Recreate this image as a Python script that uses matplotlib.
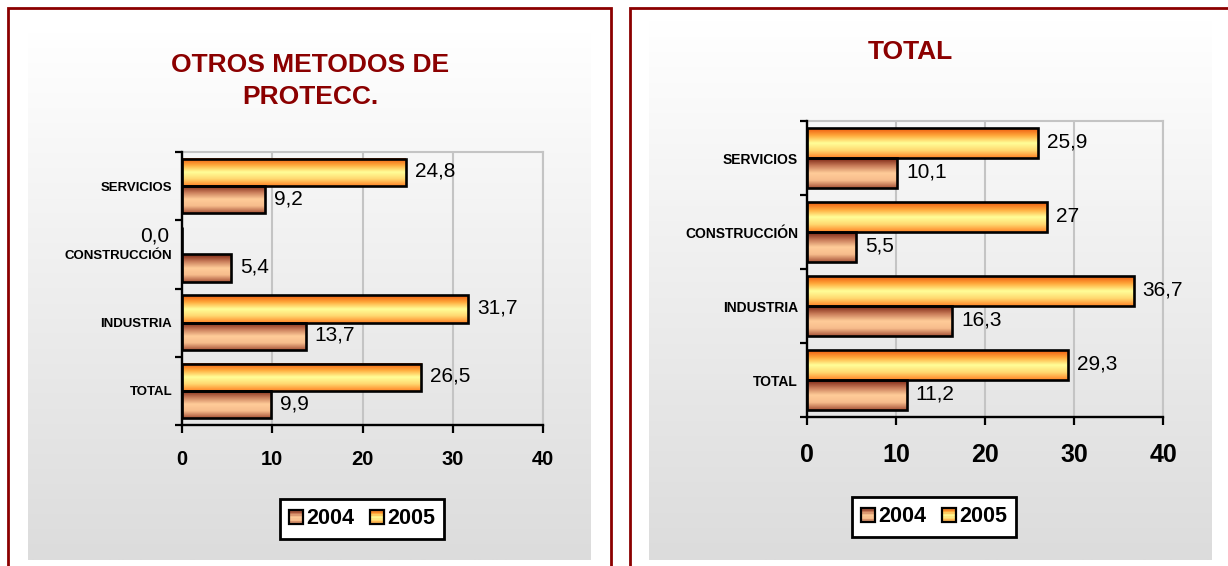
import numpy as np
import matplotlib
matplotlib.use("Agg")
import matplotlib.pyplot as plt
from matplotlib.colors import LinearSegmentedColormap
from matplotlib.patches import Rectangle, Patch
from matplotlib.legend_handler import HandlerBase

plt.rcParams["font.family"] = ["Liberation Sans", "DejaVu Sans"]

categories = ["SERVICIOS", "CONSTRUCCIÓN", "INDUSTRIA", "TOTAL"]
years = ["2004", "2005"]

otros_2004 = [9.2, 5.4, 13.7, 9.9]
otros_2005 = [24.8, 0.0, 31.7, 26.5]
total_2004 = [10.1, 5.5, 16.3, 11.2]
total_2005 = [25.9, 27, 36.7, 29.3]

W, H = 1228, 566
DARKRED = "#8B0000"
GRID = "#C4C4C4"

# shading of the bars, top to bottom
cmap04 = LinearSegmentedColormap.from_list(
    "b04", ["#7A2412", "#C77A58", "#FFCC99", "#F7BC8C", "#A8553A"])
cmap05 = LinearSegmentedColormap.from_list(
    "b05", ["#EE5A0E", "#FFAA3C", "#FFFF99", "#FFD870", "#FF8426"])
bg_cmap = LinearSegmentedColormap.from_list("bg", ["#FFFFFF", "#DCDCDC"])


def fx(px):
    return px / W


def fy(py):
    return 1 - py / H


class GradientHandler(HandlerBase):
    def __init__(self, cmap):
        super().__init__()
        self.cmap = cmap

    def create_artists(self, legend, orig_handle, xdescent, ydescent,
                       width, height, fontsize, trans):
        n = 10
        out = []
        for i in range(n):
            y = -ydescent + height - (i + 1) * height / n
            out.append(Rectangle((-xdescent, y), width, height / n,
                                 facecolor=self.cmap((i + 0.5) / n),
                                 edgecolor="none", transform=trans))
        out.append(Rectangle((-xdescent, -ydescent), width, height,
                             fill=False, edgecolor="black", lw=1.6,
                             transform=trans))
        return out


def background(x0, y0, x1, y1):
    bg = fig.add_axes([fx(x0), fy(y1), fx(x1 - x0), (y1 - y0) / H])
    bg.imshow(np.linspace(0, 1, 256).reshape(-1, 1), cmap=bg_cmap,
              aspect="auto", extent=(0, 1, 0, 1))
    bg.axis("off")


def panel(rect, v04, v05, fmt, title, title_xy, title_ls, tick_fs, cat_fs,
          cat_pad, tick_pad, leg_fs, leg_xy):
    ax = fig.add_axes(rect)
    ax.set_facecolor("none")
    y = np.arange(len(categories))
    h = 0.4
    bars05 = ax.barh(y - h / 2, v05, height=h, facecolor="none",
                     edgecolor="black", lw=1.9, zorder=3)
    bars04 = ax.barh(y + h / 2, v04, height=h, facecolor="none",
                     edgecolor="black", lw=1.9, zorder=3)
    grad = np.linspace(0, 1, 64).reshape(-1, 1)
    for bars, cmap in ((bars05, cmap05), (bars04, cmap04)):
        for r in bars:
            if r.get_width() <= 0:
                continue
            ax.imshow(grad, cmap=cmap, aspect="auto", origin="upper",
                      interpolation="bilinear", zorder=2,
                      extent=(r.get_x(), r.get_x() + r.get_width(),
                              r.get_y() + r.get_height(), r.get_y()))
    for bars, vals in ((bars05, v05), (bars04, v04)):
        for r, v in zip(bars, vals):
            cy = r.get_y() + r.get_height() / 2
            if v == 0:
                ax.annotate(fmt(v), (0, cy), xytext=(-13, 5),
                            textcoords="offset pixels", ha="right",
                            va="center", fontsize=15)
            else:
                ax.annotate(fmt(v), (v, cy), xytext=(9, 1),
                            textcoords="offset pixels", ha="left",
                            va="center", fontsize=15)

    ax.set_xlim(0, 40)
    ax.set_ylim(len(categories) - 0.5, -0.5)
    ax.set_xticks([0, 10, 20, 30, 40])
    ax.set_yticks(y)
    ax.set_yticklabels(categories, fontsize=cat_fs, fontweight="bold")
    ax.set_yticks(np.arange(-0.5, len(categories)), minor=True)
    ax.tick_params(axis="y", which="major", length=0, pad=cat_pad)
    ax.tick_params(axis="y", which="minor", length=5, width=1.6,
                   direction="out")
    ax.tick_params(axis="x", length=5.5, width=1.6, direction="out",
                   pad=tick_pad, labelsize=tick_fs)
    for lab in ax.get_xticklabels():
        lab.set_fontweight("bold")
    ax.grid(axis="x", color=GRID, lw=1.5)
    ax.set_axisbelow(True)
    for s in ("left", "bottom"):
        ax.spines[s].set_color("black")
        ax.spines[s].set_linewidth(1.7)
        ax.spines[s].set_zorder(4)
    for s in ("top", "right"):
        ax.spines[s].set_color(GRID)
        ax.spines[s].set_linewidth(1.5)
        ax.spines[s].set_zorder(1)

    fig.text(fx(title_xy[0]), fy(title_xy[1]), title, ha="center",
             va="center", fontsize=19, fontweight="bold", color=DARKRED,
             linespacing=title_ls)

    h04 = Patch(label=years[0])
    h05 = Patch(label=years[1])
    leg = ax.legend(handles=[h04, h05],
                    handler_map={h04: GradientHandler(cmap04),
                                 h05: GradientHandler(cmap05)},
                    loc="center", bbox_to_anchor=(fx(leg_xy[0]), fy(leg_xy[1])),
                    bbox_transform=fig.transFigure, ncol=2, frameon=True,
                    fancybox=False, framealpha=1, edgecolor="black",
                    prop={"size": leg_fs, "weight": "bold"},
                    handlelength=0.65, handleheight=0.65, handletextpad=0.15,
                    columnspacing=0.75, borderpad=0.42, borderaxespad=0)
    leg.get_frame().set_linewidth(2)
    return ax


fig = plt.figure(figsize=(W / 100, H / 100), dpi=100)
fig.patch.set_facecolor("white")

background(28, 32, 591, 560)
background(649, 20, 1212, 560)

# dark red frames around each chart
fig.add_artist(Rectangle((fx(8), -0.02), fx(611 - 8), fy(8) + 0.02,
                         transform=fig.transFigure, fill=False,
                         edgecolor=DARKRED, lw=2))
fig.add_artist(Rectangle((fx(630), -0.02), fx(1240 - 630), fy(8) + 0.02,
                         transform=fig.transFigure, fill=False,
                         edgecolor=DARKRED, lw=2))

panel([fx(182), fy(425), fx(543 - 182), (425 - 152) / H],
      otros_2004, otros_2005, lambda v: f"{v:.1f}".replace(".", ","),
      "OTROS METODOS DE\nPROTECC.", (310, 81), 1.44,
      tick_fs=14.5, cat_fs=9.5, cat_pad=7, tick_pad=12.5, leg_fs=15.5,
      leg_xy=(362, 519))

panel([fx(807), fy(417), fx(1163 - 807), (417 - 121) / H],
      total_2004, total_2005, lambda v: f"{v:g}".replace(".", ","),
      "TOTAL", (910, 52), 1.2,
      tick_fs=18, cat_fs=10, cat_pad=6.5, tick_pad=13, leg_fs=15.5,
      leg_xy=(934, 517))

fig.savefig("out.png", dpi=100)
